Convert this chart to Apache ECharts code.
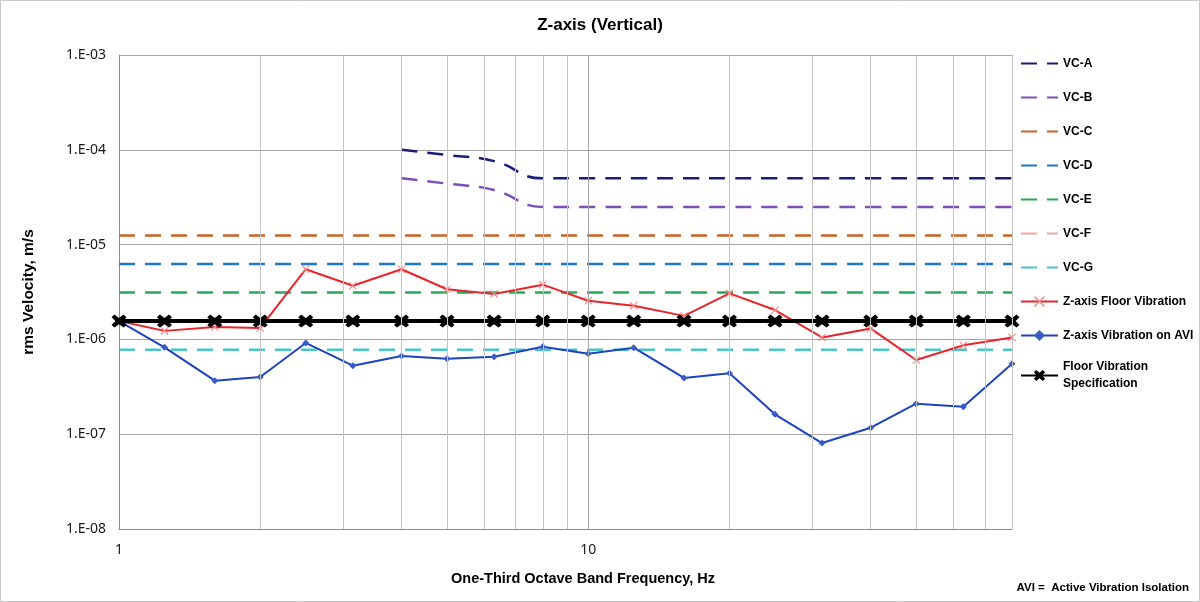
<!DOCTYPE html>
<html>
<head>
<meta charset="utf-8">
<script src="https://cdn.jsdelivr.net/npm/echarts@6/dist/echarts.min.js"></script>
<style>
  html, body { margin: 0; padding: 0; background: #fff; }
  #chart { width: 1200px; height: 602px; }
</style>
</head>
<body>
<div id="chart"></div>
<script>
// one-third octave band centre frequencies, Hz
var freqs = [1, 1.25, 1.6, 2, 2.5, 3.15, 4, 5, 6.3, 8, 10, 12.5, 16, 20, 25, 31.5, 40, 50, 63, 80];

// VC-A / VC-B criteria start at 4 Hz
var vcFreqs = [4, 5, 6.3, 8, 10, 12.5, 16, 20, 25, 31.5, 40, 50, 63, 80];
var vcA = [1.0e-4, 8.8e-5, 7.6e-5, 5.0e-5, 5.0e-5, 5.0e-5, 5.0e-5, 5.0e-5, 5.0e-5, 5.0e-5, 5.0e-5, 5.0e-5, 5.0e-5, 5.0e-5];
var vcB = [5.0e-5, 4.4e-5, 3.76e-5, 2.5e-5, 2.5e-5, 2.5e-5, 2.5e-5, 2.5e-5, 2.5e-5, 2.5e-5, 2.5e-5, 2.5e-5, 2.5e-5, 2.5e-5];

// flat criteria
var vcC = 1.25e-5;
var vcD = 6.25e-6;
var vcE = 3.12e-6;
var vcF = 1.56e-6;
var vcG = 7.8e-7;
var floorSpec = 1.56e-6;

var floorVib = [1.56e-6, 1.23e-6, 1.35e-6, 1.32e-6, 5.5e-6, 3.68e-6, 5.5e-6, 3.38e-6, 3.01e-6, 3.78e-6,
                2.56e-6, 2.27e-6, 1.77e-6, 3.06e-6, 2.04e-6, 1.05e-6, 1.30e-6, 6.07e-7, 8.66e-7, 1.05e-6];
var aviVib = [1.56e-6, 8.25e-7, 3.67e-7, 4.01e-7, 9.17e-7, 5.28e-7, 6.68e-7, 6.26e-7, 6.57e-7, 8.37e-7,
              7.06e-7, 8.17e-7, 3.92e-7, 4.39e-7, 1.62e-7, 8.07e-8, 1.17e-7, 2.10e-7, 1.95e-7, 5.55e-7];

// vertical grid positions (log minor lines)
var gridFreqs = [2, 3, 4, 5, 6, 7, 8, 9, 10, 20, 30, 40, 50, 60, 70, 80];

var legendNames = ['VC-A', 'VC-B', 'VC-C', 'VC-D', 'VC-E', 'VC-F', 'VC-G',
  'Z-axis Floor Vibration', 'Z-axis Vibration on AVI', 'Floor Vibration Specification'];
var dashedNames = ['VC-A', 'VC-B', 'VC-C', 'VC-D', 'VC-E', 'VC-F', 'VC-G'];

function pair(xs, ys) {
  return xs.map(function (x, i) { return [x, ys[i]]; });
}
function flat(v) {
  return freqs.map(function (x) { return [x, v]; });
}

var narrow = '"Liberation Sans Narrow", "Arial Narrow", "Liberation Sans", sans-serif';
var crossPath = 'path://M0,1 L1,0 L5,4 L9,0 L10,1 L6,5 L10,9 L9,10 L5,6 L1,10 L0,9 L4,5 Z';
var fatCross = 'path://M0,2 L2,0 L5,2.6 L8,0 L10,2 L7.4,5 L10,8 L8,10 L5,7.4 L2,10 L0,8 L2.6,5 Z';

function dashed(name, data, color, smooth) {
  return {
    name: name,
    type: 'line',
    data: data,
    smooth: smooth ? 0.5 : false,
    symbol: 'none',
    lineStyle: { color: color, width: 2.5, type: [16, 10] },
    itemStyle: { color: color },
    silent: true
  };
}

var chart = echarts.init(document.getElementById('chart'));
chart.setOption({
  animation: false,
  backgroundColor: '#fff',
  graphic: [
    {
      type: 'rect', z: -10, silent: true,
      shape: { x: 0.5, y: 0.5, width: 1199, height: 601 },
      style: { fill: 'none', stroke: '#c8c8c8', lineWidth: 1 }
    },
    {
      type: 'text', x: 600, y: 25,
      style: {
        text: 'Z-axis (Vertical)', fill: '#000', textAlign: 'center', textVerticalAlign: 'middle',
        font: 'bold 17px ' + narrow
      }
    },
    {
      type: 'text', x: 1189, y: 588,
      style: {
        text: 'AVI =  Active Vibration Isolation', fill: '#000', textAlign: 'right', textVerticalAlign: 'middle',
        font: 'bold 11.5px ' + narrow
      }
    }
  ],
  grid: { left: 119, right: 188, top: 55, bottom: 73 },
  legend: {
    orient: 'vertical',
    left: 1020,
    top: 55,
    padding: 0,
    itemWidth: 37,
    itemHeight: 14,
    itemGap: 17,
    selectedMode: false,
    textStyle: { color: '#000', fontFamily: narrow, fontWeight: 'bold', fontSize: 12, lineHeight: 17 },
    data: legendNames.map(function (n) {
      var item = { name: n };
      if (dashedNames.indexOf(n) >= 0) {
        item.itemStyle = { opacity: 0, borderWidth: 0 };
      }
      if (n === 'Floor Vibration Specification') {
        item.textStyle = { padding: [0, 0, -17, 0] };
      }
      return item;
    }),
    formatter: function (n) {
      return n === 'Floor Vibration Specification' ? 'Floor Vibration\nSpecification' : n;
    }
  },
  xAxis: {
    type: 'log',
    logBase: 10,
    min: 1,
    max: 80,
    name: 'One-Third Octave Band Frequency, Hz',
    nameLocation: 'middle',
    nameGap: 42,
    nameTextStyle: {
      fontFamily: narrow, fontWeight: 'bold', fontSize: 14.5, color: '#000',
      padding: [0, 0, 0, 35]
    },
    axisLine: { lineStyle: { color: '#8c8c8c', width: 1 } },
    axisTick: { show: false },
    splitLine: { show: false },
    axisLabel: {
      margin: 14,
      fontFamily: '"Noto Sans", sans-serif',
      fontSize: 14,
      color: '#1a1a1a',
      formatter: function (v) {
        var e = Math.log10(v);
        return Math.abs(e - Math.round(e)) < 1e-6 ? String(Math.round(v)) : '';
      }
    }
  },
  yAxis: {
    type: 'log',
    logBase: 10,
    min: 1e-8,
    max: 1e-3,
    name: 'rms Velocity, m/s',
    nameLocation: 'middle',
    nameGap: 82,
    nameTextStyle: { fontFamily: '"Liberation Sans", Arial, sans-serif', fontWeight: 'bold', fontSize: 15.5, color: '#000' },
    axisLine: { show: true, lineStyle: { color: '#8c8c8c', width: 1 } },
    axisTick: { show: false },
    splitLine: { show: true, lineStyle: { color: '#a6a6a6', width: 1 } },
    axisLabel: {
      margin: 13,
      fontFamily: '"Noto Sans", sans-serif',
      fontSize: 14,
      color: '#1a1a1a',
      formatter: function (v) {
        var e = Math.round(Math.log10(v));
        var s = String(Math.abs(e));
        if (s.length < 2) s = '0' + s;
        return '1.E' + (e < 0 ? '-' : '+') + s;
      }
    }
  },
  series: [
    {
      name: 'grid',
      type: 'line',
      data: [],
      z: 0,
      silent: true,
      markLine: {
        silent: true,
        symbol: ['none', 'none'],
        label: { show: false },
        lineStyle: { color: '#c4c4c4', width: 1, type: 'solid' },
        data: gridFreqs.map(function (f) {
          return { xAxis: f, lineStyle: { color: f === 10 ? '#a6a6a6' : '#c4c4c4' } };
        })
      }
    },
    dashed('VC-A', pair(vcFreqs, vcA), '#1c1c78', true),
    dashed('VC-B', pair(vcFreqs, vcB), '#7e4fb6', true),
    dashed('VC-C', flat(vcC), '#c9631f'),
    dashed('VC-D', flat(vcD), '#1f78c6'),
    dashed('VC-E', flat(vcE), '#28a85a'),
    dashed('VC-F', flat(vcF), '#f4a6a6'),
    dashed('VC-G', flat(vcG), '#48c6c9'),
    {
      name: 'Z-axis Floor Vibration',
      type: 'line',
      data: pair(freqs, floorVib),
      symbol: crossPath,
      symbolSize: 8,
      showAllSymbol: true,
      lineStyle: { color: '#e8242a', width: 2 },
      itemStyle: { color: '#f08a8a' }
    },
    {
      name: 'Z-axis Vibration on AVI',
      type: 'line',
      data: pair(freqs, aviVib),
      symbol: 'diamond',
      symbolSize: 7,
      showAllSymbol: true,
      lineStyle: { color: '#1f43bf', width: 2 },
      itemStyle: { color: '#3a5ac6' }
    },
    {
      name: 'Floor Vibration Specification',
      type: 'line',
      data: flat(floorSpec),
      symbol: fatCross,
      symbolSize: [15, 13],
      showAllSymbol: true,
      lineStyle: { color: '#000', width: 4 },
      itemStyle: { color: '#000' }
    }
  ]
});
</script>
</body>
</html>
